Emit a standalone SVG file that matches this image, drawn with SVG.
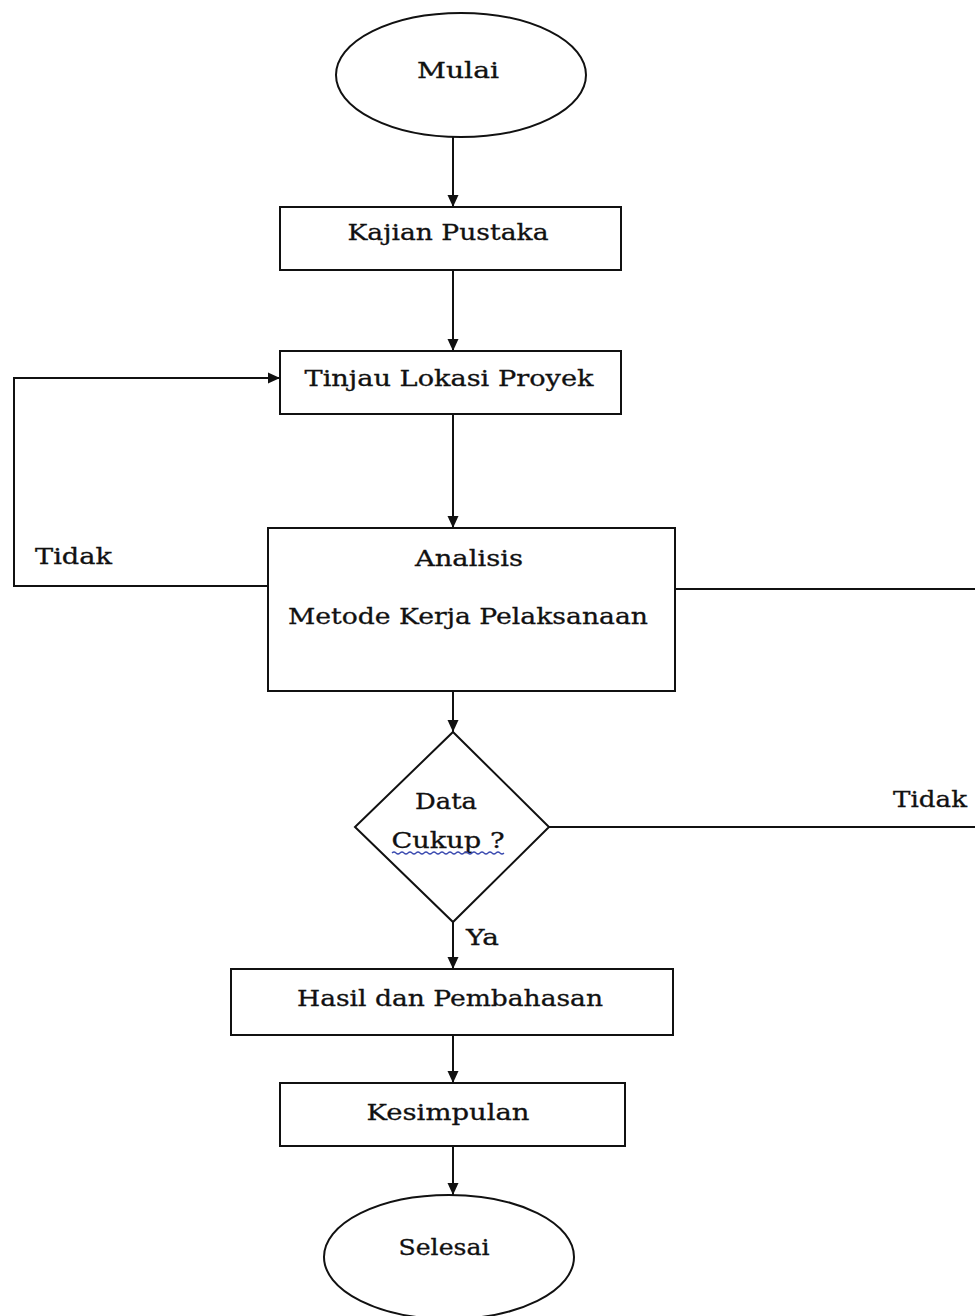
<svg xmlns="http://www.w3.org/2000/svg" width="975" height="1316" viewBox="0 0 975 1316">
<style>
.s{fill:#fff;stroke:#111;stroke-width:2}
.c{fill:none;stroke:#111;stroke-width:2}
text{font-family:"DejaVu Serif","Liberation Serif",serif;font-size:22px;fill:#111;stroke:#111;stroke-width:0.3}
.m{text-anchor:middle}
</style>
<defs>
<marker id="ah" markerWidth="12" markerHeight="12" refX="12" refY="6" orient="auto" markerUnits="userSpaceOnUse">
<path d="M0,0.5 L12,6 L0,11.5 z" fill="#111"/>
</marker>
</defs>
<rect width="975" height="1316" fill="#fff"/>
<g id="connectors">
<line class="c" x1="453" y1="137" x2="453" y2="207" marker-end="url(#ah)"/>
<line class="c" x1="453" y1="270" x2="453" y2="351" marker-end="url(#ah)"/>
<line class="c" x1="453" y1="414" x2="453" y2="528" marker-end="url(#ah)"/>
<line class="c" x1="453" y1="691" x2="453" y2="732" marker-end="url(#ah)"/>
<line class="c" x1="453" y1="922" x2="453" y2="969" marker-end="url(#ah)"/>
<line class="c" x1="453" y1="1035" x2="453" y2="1083" marker-end="url(#ah)"/>
<line class="c" x1="453" y1="1146" x2="453" y2="1195" marker-end="url(#ah)"/>
<polyline class="c" points="268,586 14,586 14,378 280,378" marker-end="url(#ah)"/>
<line class="c" x1="675" y1="589" x2="975" y2="589"/>
<line class="c" x1="549" y1="827" x2="975" y2="827"/>
<text x="35" y="564" textLength="77" lengthAdjust="spacingAndGlyphs">Tidak</text>
<text x="893" y="807" textLength="74" lengthAdjust="spacingAndGlyphs">Tidak</text>
<text x="466" y="945" textLength="33" lengthAdjust="spacingAndGlyphs">Ya</text>
</g>
<g id="mulai">
<ellipse class="s" cx="461" cy="75" rx="125" ry="62"/>
<text class="m" x="458" y="78" textLength="82" lengthAdjust="spacingAndGlyphs">Mulai</text>
</g>
<g id="kajian">
<rect class="s" x="280" y="207" width="341" height="63"/>
<text class="m" x="448" y="240" textLength="201" lengthAdjust="spacingAndGlyphs">Kajian Pustaka</text>
</g>
<g id="tinjau">
<rect class="s" x="280" y="351" width="341" height="63"/>
<text class="m" x="449" y="386" textLength="289" lengthAdjust="spacingAndGlyphs">Tinjau Lokasi Proyek</text>
</g>
<g id="analisis">
<rect class="s" x="268" y="528" width="407" height="163"/>
<text class="m" x="469" y="566" textLength="108" lengthAdjust="spacingAndGlyphs">Analisis</text>
<text class="m" x="468" y="624" textLength="360" lengthAdjust="spacingAndGlyphs">Metode Kerja Pelaksanaan</text>
</g>
<g id="data-cukup">
<polygon class="s" points="453,732 549,827 453,922 355,827"/>
<text class="m" x="446" y="809" textLength="62" lengthAdjust="spacingAndGlyphs">Data</text>
<text class="m" x="448" y="848" textLength="113" lengthAdjust="spacingAndGlyphs">Cukup ?</text>
<path d="M392,853 q2,-2 4,0 t4,0 t4,0 t4,0 t4,0 t4,0 t4,0 t4,0 t4,0 t4,0 t4,0 t4,0 t4,0 t4,0 t4,0 t4,0 t4,0 t4,0 t4,0 t4,0 t4,0 t4,0 t4,0 t4,0 t4,0 t4,0 t4,0 t4,0" fill="none" stroke="#3b4bb0" stroke-width="1.2"/>
</g>
<g id="hasil">
<rect class="s" x="231" y="969" width="442" height="66"/>
<text class="m" x="450" y="1006" textLength="306" lengthAdjust="spacingAndGlyphs">Hasil dan Pembahasan</text>
</g>
<g id="kesimpulan">
<rect class="s" x="280" y="1083" width="345" height="63"/>
<text class="m" x="448" y="1120" textLength="163" lengthAdjust="spacingAndGlyphs">Kesimpulan</text>
</g>
<g id="selesai">
<ellipse class="s" cx="449" cy="1257" rx="125" ry="62"/>
<text class="m" x="444" y="1255" textLength="91" lengthAdjust="spacingAndGlyphs">Selesai</text>
</g>
</svg>
